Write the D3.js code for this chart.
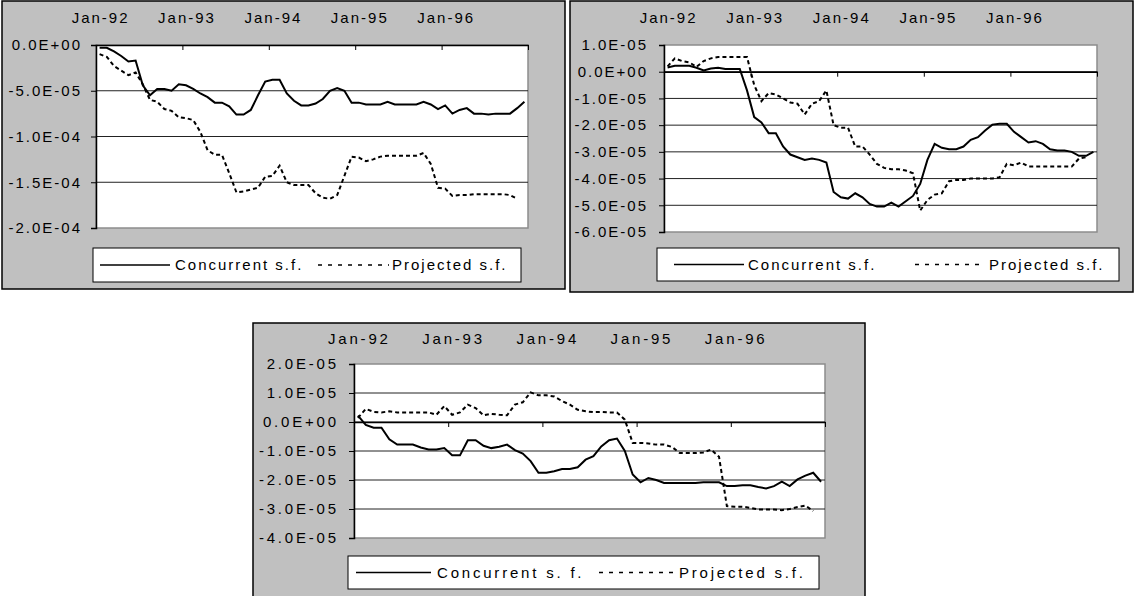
<!DOCTYPE html>
<html>
<head>
<meta charset="utf-8">
<script src="https://cdn.jsdelivr.net/npm/d3@7"></script>
<style>
  body { margin: 0; background: #fff; }
  svg text { font-family: "Liberation Sans", Arial, sans-serif; font-size: 15px; fill: #000; }
</style>
</head>
<body>
<svg id="chart" width="1134" height="596"></svg>
<script>
// monthly categories Jan-92 .. Dec-96
let months = d3.timeMonth.range(new Date(1992, 0, 1), new Date(1997, 0, 1))
let xTickLabels = ['Jan-92', 'Jan-93', 'Jan-94', 'Jan-95', 'Jan-96']
let legendLabels = ['Concurrent s.f.', 'Projected s.f.']

// series values, in units of 1E-05
let concurrent1 = [-0.3, -0.3, -0.7, -1.2, -1.8, -1.7, -4.4, -5.5, -4.8, -4.8,
  -5.0, -4.3, -4.4, -4.8, -5.3, -5.7, -6.3, -6.3, -6.7, -7.6,
  -7.6, -7.1, -5.5, -4.0, -3.8, -3.8, -5.3, -6.1, -6.6, -6.6,
  -6.4, -5.9, -5.0, -4.7, -5.0, -6.3, -6.3, -6.5, -6.5, -6.5,
  -6.2, -6.5, -6.5, -6.5, -6.5, -6.2, -6.5, -7.0, -6.6, -7.5,
  -7.1, -6.9, -7.5, -7.5, -7.6, -7.5, -7.5, -7.5, -6.9, -6.2]
let projected1 = [-1.0, -1.3, -2.3, -2.8, -3.3, -3.0, -4.3, -6.0, -6.2, -7.0,
  -7.2, -7.9, -8.0, -8.2, -9.5, -11.5, -12.0, -12.0, -14.0, -16.1,
  -16.0, -15.8, -15.6, -14.4, -14.3, -13.2, -15.0, -15.3, -15.3, -15.3,
  -16.2, -16.7, -16.8, -16.4, -14.3, -12.2, -12.3, -12.7, -12.5, -12.2,
  -12.1, -12.1, -12.1, -12.1, -12.1, -11.8, -13.0, -15.6, -15.7, -16.5,
  -16.4, -16.4, -16.3, -16.3, -16.3, -16.3, -16.3, -16.4, -16.8]

let concurrent2 = [0.16, 0.22, 0.22, 0.22, 0.15, 0.05, 0.12, 0.15, 0.1, 0.1,
  0.1, -0.7, -1.7, -1.9, -2.3, -2.3, -2.8, -3.1, -3.2, -3.3,
  -3.25, -3.3, -3.4, -4.5, -4.7, -4.75, -4.55, -4.7, -4.95, -5.05,
  -5.05, -4.9, -5.05, -4.85, -4.65, -4.2, -3.3, -2.7, -2.85, -2.9,
  -2.9, -2.8, -2.55, -2.45, -2.2, -1.98, -1.95, -1.95, -2.25, -2.45,
  -2.65, -2.6, -2.7, -2.9, -2.95, -2.95, -3.0, -3.15, -3.15, -3.0]
let projected2 = [0.2, 0.5, 0.4, 0.35, 0.18, 0.4, 0.5, 0.55, 0.55, 0.55,
  0.55, 0.55, -0.5, -1.1, -0.8, -0.85, -1.0, -1.15, -1.2, -1.6,
  -1.2, -1.1, -0.7, -2.0, -2.1, -2.1, -2.8, -2.8, -3.1, -3.45,
  -3.6, -3.65, -3.65, -3.7, -3.8, -5.2, -4.8, -4.6, -4.55, -4.1,
  -4.05, -4.05, -4.0, -4.0, -4.0, -4.0, -3.95, -3.45, -3.5, -3.4,
  -3.55, -3.55, -3.55, -3.55, -3.55, -3.55, -3.55, -3.25, -3.2]

let concurrent3 = [0.22, -0.1, -0.2, -0.2, -0.6, -0.78, -0.78, -0.78, -0.88, -0.95,
  -0.95, -0.9, -1.15, -1.15, -0.63, -0.63, -0.82, -0.9, -0.85, -0.78,
  -0.97, -1.09, -1.35, -1.75, -1.75, -1.7, -1.62, -1.62, -1.56, -1.3,
  -1.18, -0.84, -0.63, -0.57, -1.0, -1.81, -2.08, -1.93, -2.0, -2.1,
  -2.1, -2.1, -2.1, -2.1, -2.08, -2.08, -2.08, -2.21, -2.21, -2.18,
  -2.18, -2.24, -2.29, -2.21, -2.06, -2.21, -1.98, -1.85, -1.75, -2.06]
let projected3 = [0.14, 0.45, 0.35, 0.33, 0.37, 0.33, 0.33, 0.33, 0.33, 0.33,
  0.25, 0.55, 0.25, 0.33, 0.6, 0.48, 0.23, 0.28, 0.25, 0.23,
  0.6, 0.68, 1.02, 0.92, 0.92, 0.88, 0.72, 0.6, 0.42, 0.37,
  0.34, 0.35, 0.33, 0.33, 0.08, -0.72, -0.72, -0.74, -0.78, -0.78,
  -0.86, -1.07, -1.07, -1.07, -1.05, -0.95, -1.2, -2.9, -2.92, -2.92,
  -2.96, -3.02, -3.02, -3.02, -3.04, -3.0, -2.93, -2.88, -3.07]

// y ticks and their labels
let yTicks1 = [0, -5e-5, -1e-4, -1.5e-4, -2e-4]
let yLabels1 = ['0.0E+00', '-5.0E-05', '-1.0E-04', '-1.5E-04', '-2.0E-04']
let yTicks2 = [1e-5, 0, -1e-5, -2e-5, -3e-5, -4e-5, -5e-5, -6e-5]
let yLabels2 = ['1.0E-05', '0.0E+00', '-1.0E-05', '-2.0E-05', '-3.0E-05', '-4.0E-05', '-5.0E-05', '-6.0E-05']
let yTicks3 = [2e-5, 1e-5, 0, -1e-5, -2e-5, -3e-5, -4e-5]
let yLabels3 = ['2.0E-05', '1.0E-05', '0.0E+00', '-1.0E-05', '-2.0E-05', '-3.0E-05', '-4.0E-05']

let panels = [
  {
    box: [2, 1, 563, 288], plot: { left: 96, right: 528, top: 45, bottom: 228 },
    yTicks: yTicks1, yLabels: yLabels1, conc: concurrent1, proj: projected1,
    ls: 2, gap: 16, xLabelY: 18, concLabel: legendLabels[0],
    legend: { box: [93, 248, 428, 34], solid: [100, 170], concText: 175, dash: [318, 389], projText: 392 }
  },
  {
    box: [570, 1, 563, 291], plot: { left: 664, right: 1097, top: 45, bottom: 232 },
    yTicks: yTicks2, yLabels: yLabels2, conc: concurrent2, proj: projected2,
    ls: 2, gap: 18, xLabelY: 18, concLabel: legendLabels[0],
    legend: { box: [657, 248, 462, 33], solid: [674, 744], concText: 748, dash: [915, 984], projText: 989 }
  },
  {
    box: [253, 323, 612, 300], plot: { left: 354, right: 825, top: 364, bottom: 538 },
    yTicks: yTicks3, yLabels: yLabels3, conc: concurrent3, proj: projected3,
    ls: 2.8, gap: 18, xLabelY: 339, concLabel: 'Concurrent s. f.',
    legend: { box: [348, 556, 471, 33], solid: [356, 431], concText: 437, dash: [599, 676], projText: 679 }
  }
]

let svg = d3.select('#chart')

panels.forEach(p => {
  let g = svg.append('g')

  // panel background
  g.append('rect')
    .attr('x', p.box[0])
    .attr('y', p.box[1])
    .attr('width', p.box[2])
    .attr('height', p.box[3])
    .attr('fill', '#c0c0c0')
    .attr('stroke', '#000')
    .attr('stroke-width', 1.5)

  let xPositionScale = d3.scaleBand().domain(months).range([p.plot.left, p.plot.right])
  let xEdgeScale = d3.scaleLinear().domain([0, months.length]).range([p.plot.left, p.plot.right])
  let yPositionScale = d3.scaleLinear()
    .domain(d3.extent(p.yTicks))
    .range([p.plot.bottom, p.plot.top])
  let half = xPositionScale.bandwidth() / 2

  // plot area
  g.append('rect')
    .attr('x', p.plot.left)
    .attr('y', p.plot.top)
    .attr('width', p.plot.right - p.plot.left)
    .attr('height', p.plot.bottom - p.plot.top)
    .attr('fill', '#fff')
    .attr('stroke', '#8c8c8c')
    .attr('stroke-width', 1.5)

  // gridlines
  let inner = p.yTicks.slice(1, -1)
  g.selectAll('.grid')
    .data(inner)
    .enter()
    .append('line')
    .attr('class', 'grid')
    .attr('x1', p.plot.left)
    .attr('x2', p.plot.right)
    .attr('y1', d => yPositionScale(d))
    .attr('y2', d => yPositionScale(d))
    .attr('stroke', '#222')
    .attr('stroke-width', 1)

  // y axis
  let yAxis = d3.axisLeft(yPositionScale)
    .tickValues(p.yTicks)
    .tickFormat((d, i) => p.yLabels[i])
    .tickSize(5)
    .tickPadding(p.gap - 5 - p.ls)
  let ya = g.append('g')
    .attr('transform', 'translate(' + p.plot.left + ',0)')
    .call(yAxis)
  ya.select('.domain').attr('stroke', '#000').attr('stroke-width', 1.5)
  ya.selectAll('.tick line').attr('stroke', '#000')
  ya.selectAll('text')
    .attr('font-size', null)
    .attr('font-family', null)
    .style('letter-spacing', p.ls + 'px')

  // x axis crossing at zero, ticks between years
  let xAxis = d3.axisBottom(xEdgeScale)
    .tickValues([0, 12, 24, 36, 48, 60])
    .tickSize(5)
    .tickSizeOuter(0)
    .tickFormat('')
  let xa = g.append('g')
    .attr('transform', 'translate(0,' + yPositionScale(0) + ')')
    .call(xAxis)
  xa.select('.domain').attr('stroke', '#000').attr('stroke-width', 1.5)
  xa.selectAll('.tick line').attr('stroke', '#000')

  // year labels on top
  let janMonths = months.filter(d => d.getMonth() === 0)
  let labelAxis = d3.axisTop(xPositionScale)
    .tickValues(janMonths)
    .tickFormat((d, i) => xTickLabels[i])
    .tickSize(0)
    .tickPadding(0)
  let la = g.append('g')
    .attr('transform', 'translate(' + p.ls / 2 + ',' + p.xLabelY + ')')
    .call(labelAxis)
  la.select('.domain').remove()
  la.selectAll('text')
    .attr('font-size', null)
    .attr('font-family', null)
    .attr('dy', '0.35em')
    .style('letter-spacing', p.ls + 'px')

  let line = d3.line()
    .x((d, i) => xPositionScale(months[i]) + half)
    .y(d => yPositionScale(d * 1e-5))

  g.append('path')
    .datum(p.proj)
    .attr('d', line)
    .attr('fill', 'none')
    .attr('stroke', '#000')
    .attr('stroke-width', 2)
    .attr('stroke-dasharray', '4,3')

  g.append('path')
    .datum(p.conc)
    .attr('d', line)
    .attr('fill', 'none')
    .attr('stroke', '#000')
    .attr('stroke-width', 2)

  // legend
  let lg = p.legend
  let cy = lg.box[1] + lg.box[3] / 2
  g.append('rect')
    .attr('x', lg.box[0])
    .attr('y', lg.box[1])
    .attr('width', lg.box[2])
    .attr('height', lg.box[3])
    .attr('fill', '#fff')
    .attr('stroke', '#000')
    .attr('stroke-width', 1)

  g.append('line')
    .attr('x1', lg.solid[0]).attr('x2', lg.solid[1])
    .attr('y1', cy).attr('y2', cy)
    .attr('stroke', '#000').attr('stroke-width', 1.5)
  g.append('line')
    .attr('x1', lg.dash[0]).attr('x2', lg.dash[1])
    .attr('y1', cy).attr('y2', cy)
    .attr('stroke', '#000').attr('stroke-width', 1.5)
    .attr('stroke-dasharray', '4,6')

  g.append('text')
    .attr('x', lg.concText)
    .attr('y', cy)
    .attr('dy', '0.35em')
    .style('letter-spacing', p.ls + 'px')
    .text(p.concLabel)
  g.append('text')
    .attr('x', lg.projText)
    .attr('y', cy)
    .attr('dy', '0.35em')
    .style('letter-spacing', p.ls + 'px')
    .text(legendLabels[1])
})
</script>
</body>
</html>
